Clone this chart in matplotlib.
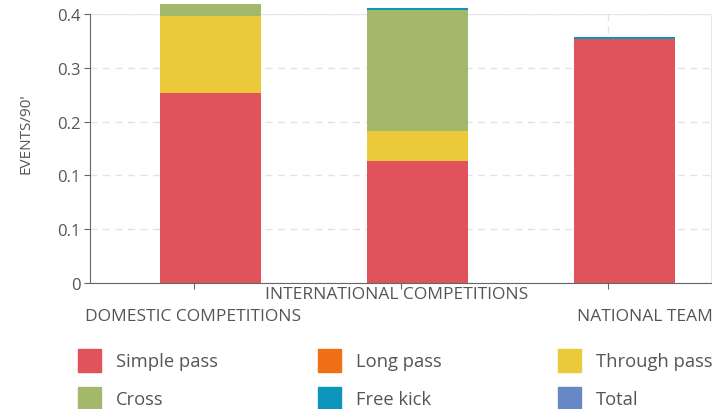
import matplotlib
matplotlib.use('Agg')
import matplotlib.pyplot as plt
from matplotlib.patches import Rectangle
from matplotlib.ticker import FuncFormatter
import numpy as np

plt.rcParams['font.family'] = ['Open Sans', 'DejaVu Sans']

categories = ['DOMESTIC COMPETITIONS', 'INTERNATIONAL COMPETITIONS', 'NATIONAL TEAM']
simple_pass = [0.265, 0.170, 0.340]
long_pass = [0.0, 0.0, 0.0]
through_pass = [0.107, 0.042, 0.0]
cross = [0.017, 0.169, 0.0]
free_kick = [0.0, 0.003, 0.003]
total = [0.0, 0.0, 0.0]

series = ['Simple pass', 'Long pass', 'Through pass', 'Cross', 'Free kick', 'Total']
colors = ['#e1535a', '#f07016', '#eac93a', '#a3b86a', '#0e95bc', '#6688c6']
values = [simple_pass, long_pass, through_pass, cross, free_kick, total]

W, H = 724, 410
fig = plt.figure(figsize=(W / 100, H / 100), dpi=100)
ax = fig.add_axes([90 / W, 1 - 284 / H, 621 / W, 269 / H])

x = np.arange(len(categories))
bottom = np.zeros(len(categories))
for name, col, vals in zip(series, colors, values):
    vals = np.array(vals)
    ax.bar(x + 0.082, vals, width=0.49, bottom=bottom, color=col,
           linewidth=0, clip_on=False, zorder=2)
    bottom += vals

ax.set_xlim(-0.5, 2.5)
ax.set_ylim(0, 0.375)
ax.set_yticks([0, 0.075, 0.15, 0.225, 0.3, 0.375])
ax.yaxis.set_major_formatter(FuncFormatter(lambda v, p: '0' if v == 0 else '%.1f' % v))
ax.set_xticks(x)
ax.set_xticklabels([])

ax.set_axisbelow(True)
ax.grid(True, color='#e3e3e3', linestyle=(0, (5, 4)), linewidth=1)
for s in ['top', 'right']:
    ax.spines[s].set_color('#e6e6e6')
    ax.spines[s].set_zorder(1)
for s in ['left', 'bottom']:
    ax.spines[s].set_color('#666666')
    ax.spines[s].set_zorder(3)
ax.tick_params(axis='both', colors='#666666', labelcolor='#555555', length=4, labelsize=12)
ax.tick_params(axis='y', pad=3)

ax.set_ylabel("EVENTS/90'", color='#555555', fontsize=11)
ax.yaxis.set_label_coords(-0.091, 0.56)

# staggered category labels
ax.annotate(categories[0], xy=(0, 0), xycoords=('data', 'axes fraction'),
            xytext=(0, -23.5), textcoords='offset points', ha='center', va='center',
            fontsize=12.5, color='#555555')
ax.annotate(categories[1], xy=(1, 0), xycoords=('data', 'axes fraction'),
            xytext=(-3, -8), textcoords='offset points', ha='center', va='center',
            fontsize=12.5, color='#555555')
ax.annotate(categories[2], xy=(1, 0), xycoords='axes fraction',
            xytext=(1, -23.5), textcoords='offset points', ha='right', va='center',
            fontsize=12.5, color='#555555')

# legend
col_x = [78, 318, 558]
row_y = [361, 399]
for i, (name, col) in enumerate(zip(series, colors)):
    cx = col_x[i % 3]
    cy = row_y[i // 3]
    fig.add_artist(Rectangle((cx / W, 1 - (cy + 11.5) / H), 23 / W, 23 / H,
                             transform=fig.transFigure, color=col))
    fig.text((cx + 38) / W, 1 - (cy + 1) / H, name, ha='left', va='center',
             fontsize=13.2, color='#555555')

fig.savefig('out.png', dpi=100)
